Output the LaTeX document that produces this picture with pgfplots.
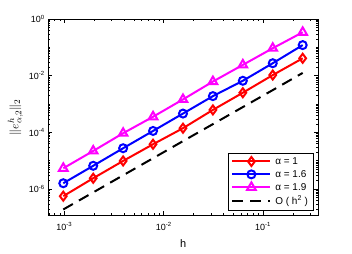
\documentclass[border=0pt]{standalone}
\usepackage{pgfplots}
\pgfplotsset{compat=1.18}
\usepackage{fontspec}
\setmainfont{Liberation Sans}
\definecolor{mmag}{rgb}{1,0,1}
\definecolor{mred}{rgb}{1,0,0}
\definecolor{mblue}{rgb}{0,0,1}
\begin{document}
\begin{tikzpicture}
\begin{axis}[
  scale only axis,
  width=270bp, height=196bp,
  xmode=log, ymode=log,
  xmin=6.9e-4, xmax=0.359,
  ymin=1.21e-7, ymax=1,
  xtick={1e-3,1e-2,1e-1},
  xticklabels={10\textsuperscript{-3},10\textsuperscript{-2},10\textsuperscript{-1}},
  ytick={1e-6,1e-4,1e-2,1},
  yticklabels={10\textsuperscript{-6},10\textsuperscript{-4},10\textsuperscript{-2},10\textsuperscript{0}},
  minor xtick={7e-4,8e-4,9e-4,2e-3,3e-3,4e-3,5e-3,6e-3,7e-3,8e-3,9e-3,2e-2,3e-2,4e-2,5e-2,6e-2,7e-2,8e-2,9e-2,0.2,0.3},
  minor ytick={2e-7,3e-7,4e-7,5e-7,6e-7,7e-7,8e-7,9e-7,2e-6,3e-6,4e-6,5e-6,6e-6,7e-6,8e-6,9e-6,1e-5,2e-5,3e-5,4e-5,5e-5,6e-5,7e-5,8e-5,9e-5,2e-4,3e-4,4e-4,5e-4,6e-4,7e-4,8e-4,9e-4,1e-3,2e-3,3e-3,4e-3,5e-3,6e-3,7e-3,8e-3,9e-3,2e-2,3e-2,4e-2,5e-2,6e-2,7e-2,8e-2,9e-2,0.1,0.2,0.3,0.4,0.5,0.6,0.7,0.8,0.9},
  tick align=inside,
  major tick length=4bp, minor tick length=2.2bp,
  every tick/.style={black, line width=0.5bp},
  axis line style={line width=0.6bp},
  tick label style={font=\fontsize{9}{10}\selectfont},
  xticklabel style={anchor=north, yshift=-4bp},
  xlabel={h}, ylabel={$\|e^h_{\alpha,2}\|_2$},
  xlabel style={font=\fontsize{11}{12}\selectfont, yshift=-2bp},
  ylabel style={font=\fontsize{13}{15}\selectfont, yshift=-1bp},
  legend cell align=left,
  legend style={at={(0.981,0.022)}, anchor=south east, font=\fontsize{10}{12}\selectfont,
    draw=black, inner xsep=3bp, inner ysep=2.5bp, row sep=0.5bp,
    /tikz/every odd column/.append style={column sep=2bp}},
  legend image code/.code={
    \draw[#1, line width=2bp, mark=none] (0cm,0cm) -- (1.34cm,0cm);
    \draw[#1, line width=2bp, only marks] plot coordinates {(0.67cm,0cm)};
  },
]
\addplot[mred, line width=2bp, mark=diamond, mark size=4.5bp, mark options={fill=white, solid}] coordinates {
(0.0009765625,5.6e-7) (0.001953125,2.4e-6) (0.00390625,9.8e-6) (0.0078125,3.8e-5) (0.015625,1.4e-4) (0.03125,6.2e-4) (0.0625,2.5e-3) (0.125,1.05e-2) (0.25,0.041)};
\addlegendentry{α = 1}
\addplot[mblue, line width=2bp, mark=o, mark size=4bp, mark options={fill=white, solid}] coordinates {
(0.0009765625,1.6e-6) (0.001953125,6.6e-6) (0.00390625,2.75e-5) (0.0078125,1.12e-4) (0.015625,4.6e-4) (0.03125,1.9e-3) (0.0625,6.6e-3) (0.125,2.75e-2) (0.25,0.12)};
\addlegendentry{α = 1.6}
\addplot[mmag, line width=2bp, mark=triangle, mark size=5bp, mark options={fill=white, solid}] coordinates {
(0.0009765625,5.4e-6) (0.001953125,2.2e-5) (0.00390625,9.3e-5) (0.0078125,3.55e-4) (0.015625,1.45e-3) (0.03125,6.2e-3) (0.0625,2.4e-2) (0.125,9.3e-2) (0.25,0.34)};
\addlegendentry{α = 1.9}
\addplot[black, line width=2bp, dash pattern=on 11bp off 7bp] coordinates {
(0.0009765625,1.9e-7) (0.001953125,7.6e-7) (0.00390625,3.05e-6) (0.0078125,1.22e-5) (0.015625,4.9e-5) (0.03125,1.95e-4) (0.0625,7.8e-4) (0.125,3.1e-3) (0.25,1.25e-2)};
\addlegendentry{O ( h\textsuperscript{2} )}
\end{axis}
\pgfresetboundingbox
\path ([shift={(-48.3bp,-39bp)}]current axis.south west) rectangle ([shift={(33.7bp,19bp)}]current axis.north east);
\end{tikzpicture}
\end{document}
